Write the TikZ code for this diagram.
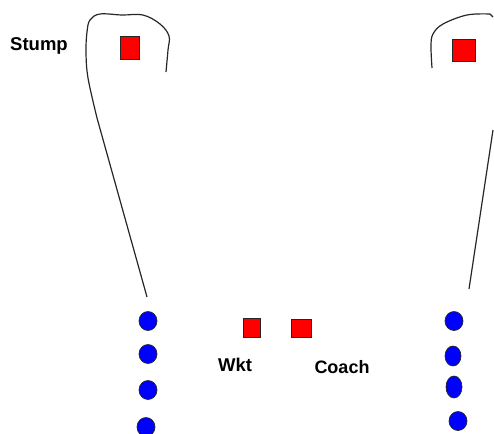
\documentclass[tikz,border=0pt]{standalone}
\usepackage{fontspec}
\setmainfont{Liberation Sans}
\usetikzlibrary{shapes.geometric}
\begin{document}
\begin{tikzpicture}[x=1pt,y=-1pt,
  stumpbox/.style={draw=black!85,line width=0.9pt,fill=red,minimum width=#1,minimum height=22pt,inner sep=0pt},
  fielder/.style={draw=black!85,line width=0.7pt,fill=blue,ellipse,minimum width=18pt,minimum height=19pt,inner sep=0pt},
  lbl/.style={font=\fontsize{18.5}{20}\selectfont\bfseries,inner sep=0pt},
  rope/.style={draw=black!85,line width=1.2pt}]
\useasboundingbox (0,0) rectangle (494,433);
% boundary lines
\draw[rope] plot[smooth,tension=0.6] coordinates {(166,72) (168,50) (169,36) (160,24) (143,15) (122,15) (100,14) (90,20) (87,32) (86,52) (88,78) (97,118)} -- (147,297);
\draw[rope] plot[smooth,tension=0.6] coordinates {(432,68) (431,46) (433,34) (443,24) (467,15) (490,14)} -- (493,17);
\draw[rope] (493,130) -- (469,289);
% stumps / players
\node[stumpbox=19pt,minimum height=23pt] (s1) at (129.5,47.5) {};
\node[stumpbox=23pt] (s2) at (463.5,50) {};
\node[stumpbox=17pt,minimum height=19pt] (wk) at (251.5,327.5) {};
\node[stumpbox=20pt,minimum height=18pt] (co) at (301,328) {};
% labels
\node[lbl] (tstump) at (39,46) {Stump};
\node[lbl] (twkt) at (235,365) {Wkt};
\node[lbl,font=\fontsize{18}{20}\selectfont\bfseries] (tcoach) at (342,367) {Coach};
% fielders left
\node[fielder] (l1) at (148,321) {};
\node[fielder] (l2) at (148,354) {};
\node[fielder] (l3) at (148,390) {};
\node[fielder] (l4) at (146,427) {};
% fielders right
\node[fielder] (r1) at (454,321) {};
\node[fielder,minimum width=16pt,minimum height=20pt] (r2) at (453,356) {};
\node[fielder,minimum width=16pt,minimum height=22pt] (r3) at (454,387) {};
\node[fielder] (r4) at (458,421) {};
\end{tikzpicture}
\end{document}
